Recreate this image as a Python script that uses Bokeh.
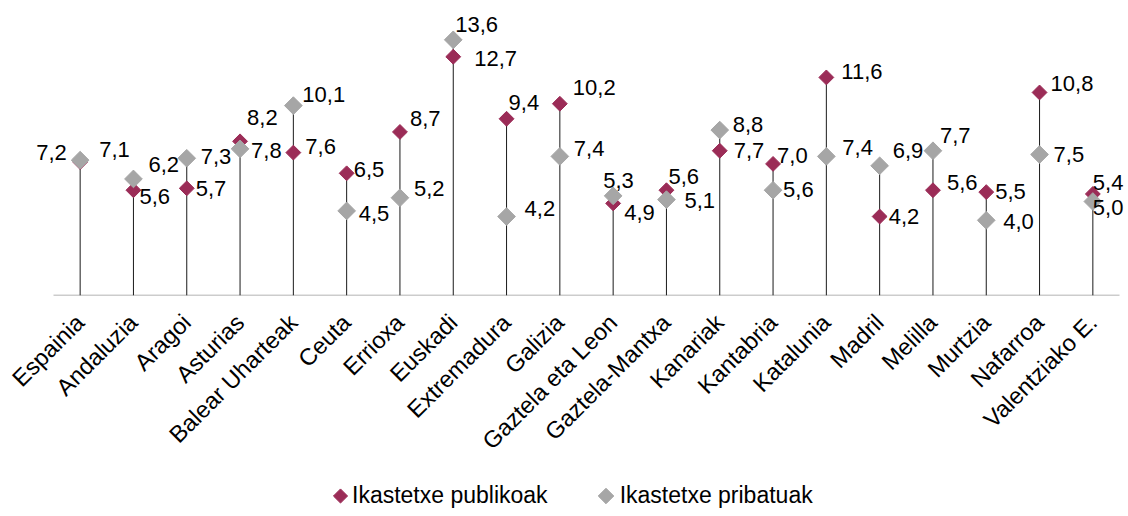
import math
from bokeh.plotting import figure
from bokeh.layouts import column
from bokeh.models import (ColumnDataSource, Range1d, Legend, LegendItem, FixedTicker)
from bokeh.core.properties import value
from bokeh.embed import file_html
from bokeh.resources import INLINE

# ---- data ----
categories = ["Espainia", "Andaluzia", "Aragoi", "Asturias", "Balear Uharteak", "Ceuta",
              "Errioxa", "Euskadi", "Extremadura", "Galizia", "Gaztela eta Leon",
              "Gaztela-Mantxa", "Kanariak", "Kantabria", "Katalunia", "Madril", "Melilla",
              "Murtzia", "Nafarroa", "Valentziako E."]
publikoak = [7.1, 5.6, 5.7, 8.2, 7.6, 6.5, 8.7, 12.7, 9.4, 10.2, 4.9, 5.6, 7.7, 7.0, 11.6,
             4.2, 5.6, 5.5, 10.8, 5.4]
pribatuak = [7.2, 6.2, 7.3, 7.8, 10.1, 4.5, 5.2, 13.6, 4.2, 7.4, 5.3, 5.1, 8.8, 5.6, 7.4,
             6.9, 7.7, 4.0, 7.5, 5.0]
series_names = ["Ikastetxe publikoak", "Ikastetxe pribatuak"]

# ---- label placement (pixel offsets, style only) ----
pub_dx = [19, 6, 9, 7, 12, 7, 10, 21, 2, 13, 11, 2, 14, 4, 15, 9, 14, 9, 11, 0]
pub_dy = [-13, 6, 0, -24, -6, -4, -13, 2, -16, -16, 9, -14, 0, -8, -6, 0, -8, -1, -9, -11]
pri_dx = [-44, 15, 14, 11, 9, 12, 14, 2, 18, 14, -10, 18, 13, 10, 16, 13, 7, 17, 14, 0]
pri_dy = [-8, -14, -2, 2, -11, 3, -9, -15, -8, -8, -15, 1, -6, -1, -9, -15, -15, 1, 0, 6]

MAROON = "#9B2C57"
GRAY = "#A6A6A6"
FONT = "Liberation Sans"

def fmt(v):
    return f"{v:.1f}".replace(".", ",")

n = len(categories)
xs = [i + 0.5 for i in range(n)]

src = ColumnDataSource(dict(
    x=xs, pub=publikoak, pri=pribatuak,
    top=[max(a, b) for a, b in zip(publikoak, pribatuak)],
    zero=[0] * n,
    pub_lbl=[fmt(v) for v in publikoak], pri_lbl=[fmt(v) for v in pribatuak],
    pub_dx=pub_dx, pub_dy=pub_dy, pri_dx=pri_dx, pri_dy=pri_dy,
))

# frame: 20..1127 px, categories occupy 53..1119 px
p = figure(width=1128, height=470, x_range=Range1d(-0.61914, 20.150),
           y_range=Range1d(0, 15), output_backend="svg", toolbar_location=None,
           min_border_left=20, min_border_right=1, min_border_top=13, min_border_bottom=175,
           y_axis_location=None)
p.outline_line_color = None
p.xgrid.visible = False
p.ygrid.visible = False
p.background_fill_color = "white"

# baseline
p.segment(x0=[0], y0=[0], x1=[n], y1=[0], line_color="#9A9A9A", line_width=1.5)
# drop lines
p.segment(x0="x", y0="zero", x1="x", y1="top", source=src, line_color="#1A1A1A", line_width=1)

r_pub = p.scatter(x="x", y="pub", source=src, marker="square", size=10.5, angle=math.pi / 4,
                  fill_color=MAROON, line_color=MAROON)
r_pri = p.scatter(x="x", y="pri", source=src, marker="square", size=12.5, angle=math.pi / 4,
                  fill_color=GRAY, line_color=GRAY)

p.text(x="x", y="pub", text="pub_lbl", x_offset="pub_dx", y_offset="pub_dy", source=src,
       text_align="left", text_baseline="middle", text_font=value(FONT),
       text_font_size="22px", text_color="black")
p.text(x="x", y="pri", text="pri_lbl", x_offset="pri_dx", y_offset="pri_dy", source=src,
       text_align="left", text_baseline="middle", text_font=value(FONT),
       text_font_size="22px", text_color="black")

ax = p.xaxis[0]
ax.ticker = FixedTicker(ticks=xs)
ax.major_label_overrides = {x: c for x, c in zip(xs, categories)}
ax.axis_line_color = None
ax.major_tick_line_color = None
ax.minor_tick_line_color = None
ax.major_label_orientation = math.pi / 4
ax.major_label_text_font = FONT
ax.major_label_text_font_size = "23.5px"
ax.major_label_text_color = "black"
ax.major_label_standoff = 17

# ---- legend strip ----
# frame aligned with the main plot (20..1127 px); 1 data unit = 1 px
lg = figure(width=1128, height=46, x_range=Range1d(20, 1127), y_range=Range1d(0, 46),
            output_backend="svg", toolbar_location=None, min_border=0,
            min_border_left=20, min_border_right=1,
            x_axis_location=None, y_axis_location=None)
lg.outline_line_color = None
lg.xgrid.visible = False
lg.ygrid.visible = False
# legend key diamonds (rotated squares, as in the plot)
lg.scatter(x=[340], y=[20.5], marker="square", size=10, angle=math.pi / 4,
           fill_color=MAROON, line_color=MAROON)
lg.scatter(x=[605.5], y=[20.5], marker="square", size=11, angle=math.pi / 4,
           fill_color=GRAY, line_color=GRAY)
# legend entries bound to the series (glyph keys drawn by the diamonds above)
l_pub = lg.scatter(x="x", y="pub", source=src, marker="square", size=10,
                   fill_color=MAROON, line_color=MAROON, fill_alpha=0, line_alpha=0)
l_pri = lg.scatter(x="x", y="pri", source=src, marker="square", size=10,
                   fill_color=GRAY, line_color=GRAY, fill_alpha=0, line_alpha=0)
legend = Legend(items=[LegendItem(label=series_names[0], renderers=[l_pub], index=0),
                       LegendItem(label=series_names[1], renderers=[l_pri], index=0)],
                orientation="horizontal", location=(307, 7),
                glyph_width=25, glyph_height=25, label_standoff=0, spacing=47,
                padding=0, margin=0, border_line_color=None, background_fill_alpha=0,
                label_text_font=FONT, label_text_font_size="23px", label_text_color="black")
lg.add_layout(legend, "center")

layout = column(p, lg, spacing=0)
open("out.html", "w").write(file_html(layout, INLINE))
